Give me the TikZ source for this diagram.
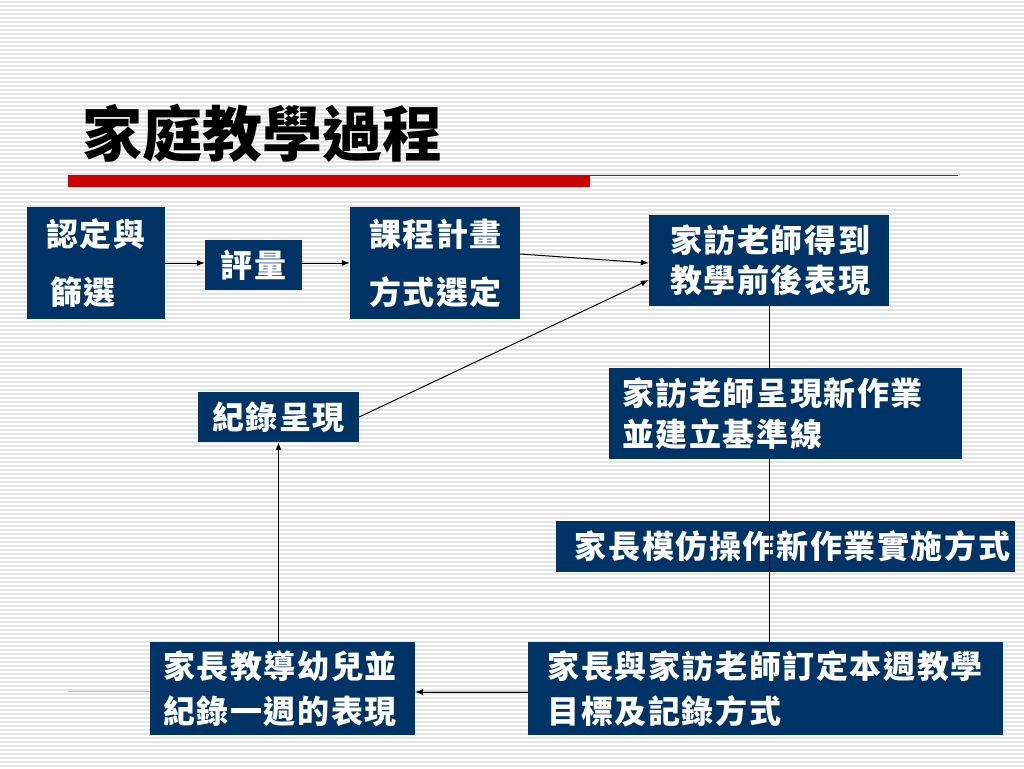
\documentclass[tikz,border=0pt]{standalone}
\usepackage{fontspec}
\newfontfamily\cjk{Noto Sans CJK TC}
\usetikzlibrary{arrows.meta}
\definecolor{navy}{RGB}{0,51,102}
\definecolor{barred}{RGB}{204,0,0}
\definecolor{stripe}{RGB}{228,228,228}
\definecolor{faintline}{RGB}{214,178,168}
\newdimen\trk
\trk=1.6pt
\def\tr#1{\trfirst#1\relax}
\def\trfirst#1{#1\trloop}
\def\trloop#1{\ifx\relax#1\else\kern\trk#1\expandafter\trloop\fi}
\tikzset{
  navybox/.style={fill=navy, text=white, inner sep=0pt, align=left,
    font=\cjk\bfseries\fontsize{32}{#1}\selectfont},
  arr/.style={draw=black, line width=1pt, -{Latex[length=8pt,width=6pt]}},
  link/.style={draw=black, line width=0.8pt},
}
\begin{document}
\begin{tikzpicture}[x=1pt,y=-1pt]
\useasboundingbox (0,0) rectangle (1024,768);
\fill[white] (0,0) rectangle (1024,768);
\foreach \yy in {2,6,...,766} \draw[stripe, line width=1.2pt] (0,\yy) -- (1024,\yy);

% title and rule
\node[font=\cjk\bfseries\fontsize{60}{60}\selectfont, anchor=west, inner sep=0pt] (title) at (82,133) {家庭教學過程};
\fill[barred] (68,175) rectangle (590,187);
\draw[barred, line width=1pt] (590,175.5) -- (958,175.5);
\draw[faintline, line width=1pt] (68,691) -- (958,691);

% boxes
\node[navybox=58, minimum width=138pt, minimum height=112pt, text width=100pt] (a) at (96,263) {\tr{認定與}\\\hspace{4pt}\tr{篩選}};
\node[navybox=40, minimum width=97pt, minimum height=50pt] (b) at (253.5,265) {\tr{評量}};
\node[navybox=58, minimum width=170pt, minimum height=112pt, text width=132pt] (c) at (435,263) {\tr{課程計畫}\\\tr{方式選定}};
\node[navybox=40, minimum width=240pt, minimum height=91pt, text width=198pt] (d) at (769,260.5) {\tr{家訪老師得到}\\\tr{教學前後表現}};
\node[navybox=40, minimum width=161pt, minimum height=50pt] (e) at (278.5,417) {\tr{紀錄呈現}};
\node[navybox=41, minimum width=353pt, minimum height=91pt, text width=327pt] (f) at (785.5,413.5) {\tr{家訪老師呈現新作業}\\\tr{並建立基準線}};
\node[navybox=40, minimum width=459pt, minimum height=51pt, text width=449pt, align=right] (g) at (785.5,546.5) {\tr{家長模仿操作新作業實施方式}};
\node[navybox=45, minimum width=265pt, minimum height=93pt, text width=239pt] (h) at (282.5,688.5) {\tr{家長教導幼兒並}\\\tr{紀錄一週的表現}};
\node[navybox=45, minimum width=475pt, minimum height=93pt, text width=436pt] (i) at (765.5,688.5) {\tr{家長與家訪老師訂定本週教學}\\\tr{目標及記錄方式}};

% connectors
\draw[arr] (a.east) -- (a.east -| b.west);
\draw[arr] (a.east -| b.east) -- (a.east -| c.west);
\draw[arr] ([yshift=9pt]c.east) -- ([yshift=-2.5pt]d.west);
\draw[arr] (e.east) -- ([yshift=-19.5pt]d.west);
\draw[link] (d.south) -- (d.south |- f.north);
\draw[link] (d.south |- f.south) -- (d.south |- i.north);
\draw[arr] ([yshift=-3.5pt]i.west) -- ([yshift=-3.5pt]h.east);
\draw[arr] (h.north -| e.south) -- (e.south);
\end{tikzpicture}
\end{document}
